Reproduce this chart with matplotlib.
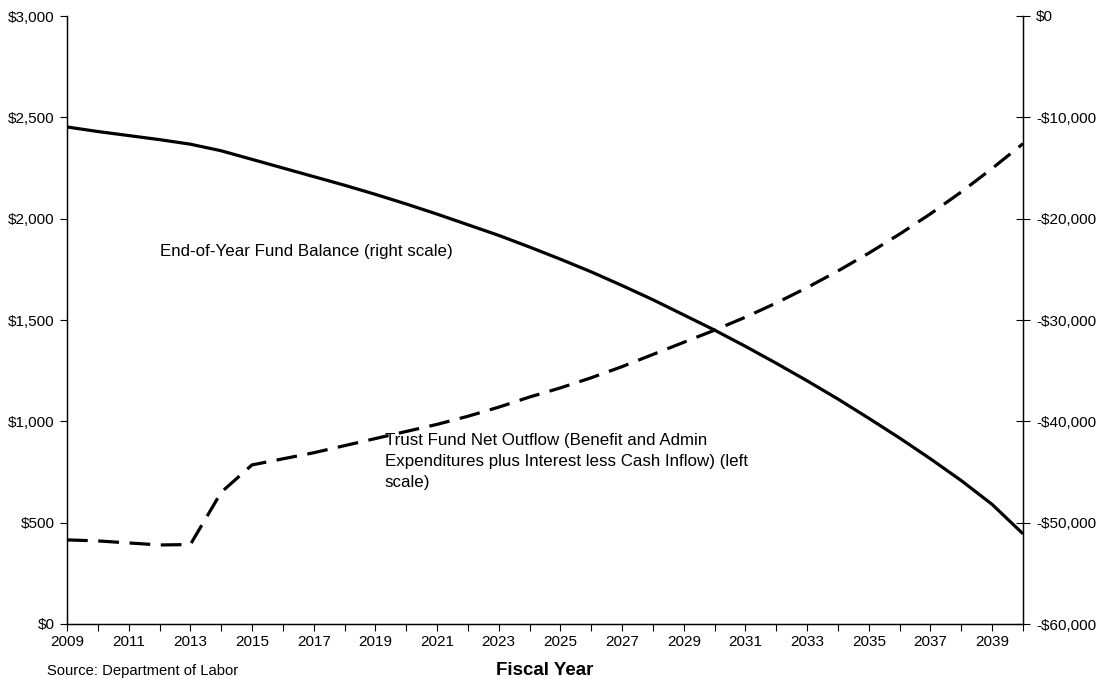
import numpy as np
import matplotlib
matplotlib.use("Agg")
import matplotlib.pyplot as plt
from matplotlib.ticker import FuncFormatter, MultipleLocator

plt.rcParams['font.family'] = ['Liberation Sans', 'DejaVu Sans']

years = list(range(2009, 2041))
# trust fund net outflow, $ millions (left scale)
net_outflow = [415, 410, 400, 390, 392, 650, 785, 815, 845, 880,
               915, 950, 985, 1025, 1070, 1120, 1165, 1215, 1270, 1330,
               1390, 1450, 1514, 1584, 1660, 1742, 1830, 1924, 2024, 2132,
               2248, 2370]
# end-of-year fund balance, $ millions (right scale)
fund_balance = [-10950, -11400, -11800, -12200, -12650, -13300, -14150, -15000,
                -15850, -16700, -17600, -18550, -19550, -20600, -21650, -22800,
                -24000, -25250, -26600, -28000, -29500, -31000, -32600, -34270,
                -36000, -37800, -39700, -41650, -43700, -45850, -48200, -51100]

fig = plt.figure(figsize=(11.07, 6.79), dpi=100)
ax = fig.add_axes([67/1107, 1-624/679, (1023-67)/1107, (624-16)/679])
ax2 = ax.twinx()

ax.plot(years, net_outflow, color='black', lw=2.3, dashes=(6.5, 3.3), zorder=3)
ax2.plot(years, fund_balance, color='black', lw=2.3, solid_capstyle='butt')

ax.set_xlim(2009, 2040)
ax.set_ylim(0, 3000)
ax2.set_ylim(-60000, 0)

ax.set_xticks(years)
ax.set_xticklabels([str(y) if y % 2 == 1 else '' for y in years])
ax.yaxis.set_major_locator(MultipleLocator(500))
ax.yaxis.set_major_formatter(FuncFormatter(lambda v, p: '${:,.0f}'.format(v)))
ax2.yaxis.set_major_locator(MultipleLocator(10000))
ax2.yaxis.set_major_formatter(FuncFormatter(
    lambda v, p: ('-${:,.0f}'.format(-v) if v < 0 else '${:,.0f}'.format(v))))

ax.tick_params(axis='y', direction='out', length=5, width=0.8, labelsize=11, pad=4)
ax.tick_params(axis='x', direction='out', length=5, width=0.8, labelsize=11, pad=3)
ax2.tick_params(axis='y', direction='inout', length=10, width=0.8, labelsize=11, pad=4.5)

for a in (ax, ax2):
    a.spines['top'].set_visible(False)
    for s in ('left', 'right', 'bottom'):
        a.spines[s].set_linewidth(0.9)

ax.set_xlabel('Fiscal Year', fontsize=13.5, fontweight='bold', labelpad=9)

ax.text(2012.0, 2000 - 160, 'End-of-Year Fund Balance (right scale)',
        fontsize=12.2, va='center', ha='left')
ax.text(2019.3, 940, 'Trust Fund Net Outflow (Benefit and Admin\n'
        'Expenditures plus Interest less Cash Inflow) (left\nscale)',
        fontsize=12.2, va='top', ha='left', linespacing=1.5)

fig.text(47/1107, 1-671/679, 'Source: Department of Labor', fontsize=10.6,
         va='center', ha='left')

fig.savefig('out.png', dpi=100)
